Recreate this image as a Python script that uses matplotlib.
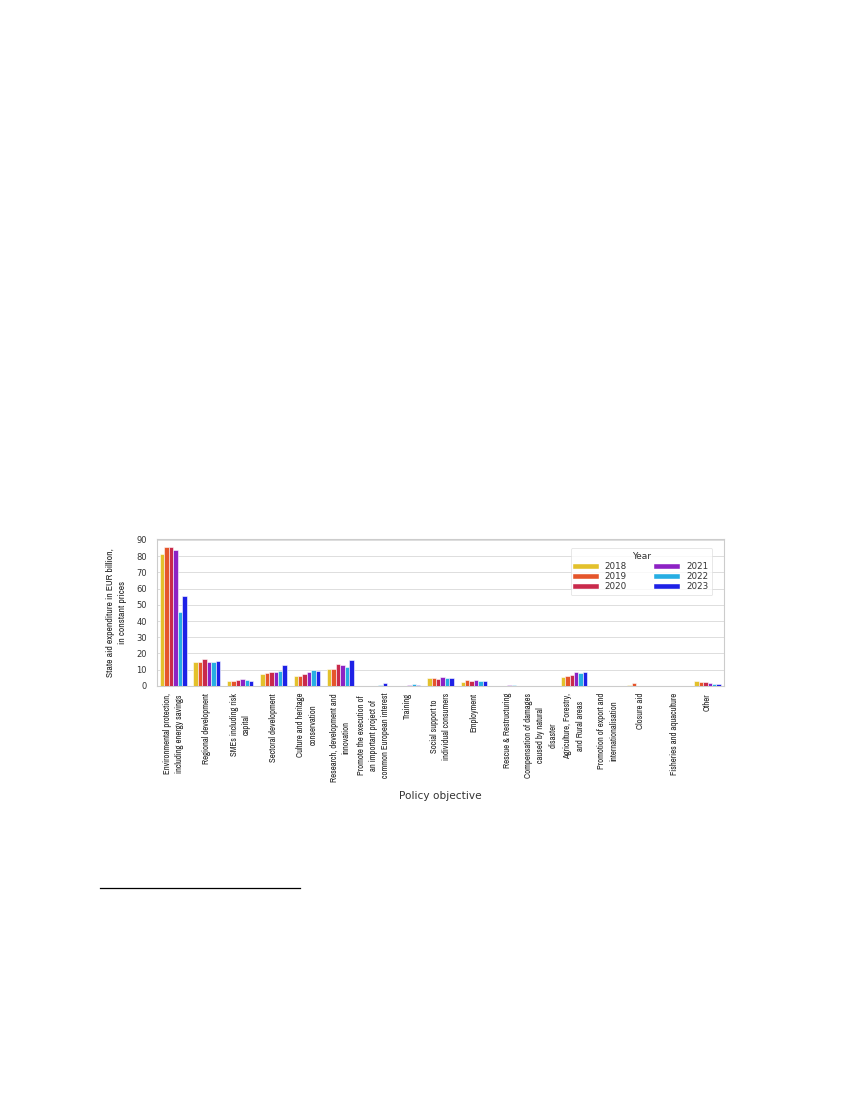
import numpy as np
import matplotlib
matplotlib.use('Agg')
import matplotlib.pyplot as plt
from matplotlib.lines import Line2D
from matplotlib import font_manager

plt.rcParams['font.family'] = ['Liberation Sans', 'DejaVu Sans']

categories = [
    'Environmental protection,\nincluding energy savings',
    'Regional development',
    'SMEs including risk\ncapital',
    'Sectoral development',
    'Culture and heritage\nconservation',
    'Research, development and\ninnovation',
    'Promote the execution of\nan important project of\ncommon European interest',
    'Training',
    'Social support to\nindividual consumers',
    'Employment',
    'Rescue & Restructuring',
    'Compensation of damages\ncaused by natural\ndisaster',
    'Agriculture, Forestry,\nand Rural areas',
    'Promotion of export and\ninternationalisation',
    'Closure aid',
    'Fisheries and aquaculture',
    'Other',
]
years = ['2018', '2019', '2020', '2021', '2022', '2023']
colors = ['#E3C12C', '#E5552B', '#C92A4B', '#8D22C4', '#27AEE3', '#1E21E6']

v2018 = [81.0, 14.5, 3.3, 7.6, 6.3, 10.6, 0.0, 0.0, 4.9, 2.6, 0.0, 0.0, 5.7, 0.0, 0.6, 0.0, 3.0]
v2019 = [85.3, 14.9, 3.3, 8.2, 6.3, 10.6, 0.0, 0.0, 4.9, 3.6, 0.0, 0.0, 6.2, 0.0, 1.9, 0.0, 2.6]
v2020 = [85.3, 16.3, 3.9, 8.8, 7.6, 13.3, 0.0, 0.0, 4.5, 3.2, 0.0, 0.1, 6.6, 0.0, 0.0, 0.0, 2.6]
v2021 = [83.5, 14.5, 4.1, 8.8, 8.4, 12.7, 0.1, 0.6, 5.5, 3.6, 0.6, 0.1, 8.3, 0.0, 0.0, 0.0, 1.7]
v2022 = [45.7, 14.5, 3.9, 9.4, 9.6, 11.6, 0.7, 1.1, 5.1, 3.2, 0.6, 0.0, 7.9, 0.0, 0.0, 0.0, 1.3]
v2023 = [55.3, 15.1, 2.9, 12.7, 9.0, 15.7, 1.9, 0.6, 5.1, 3.0, 0.0, 0.0, 8.7, 0.0, 0.0, 0.0, 1.1]
values = [v2018, v2019, v2020, v2021, v2022, v2023]

# look for a narrow sans font for the rotated labels
narrow_fp = None
best = 99
for f in font_manager.fontManager.ttflist:
    nm = f.name
    low = (nm + ' ' + f.fname).lower()
    if f.style != 'normal' or 'mono' in low or 'serif' in nm.lower() or 'bold' in low \
            or 'italic' in low or 'oblique' in low or 'light' in low:
        continue
    if 'narrow' in low:
        rank = 0
    elif 'condensed' in low or f.stretch in ('condensed', 'semi-condensed'):
        rank = 1 if 'sans' in low else 2
    else:
        continue
    if 'semicondensed' in low or 'semi' in str(f.stretch) or 'extra' in low:
        rank += 3
    if rank < best:
        best = rank
        narrow_fp = font_manager.FontProperties(fname=f.fname)

if narrow_fp is not None:
    xt_size, xt_ls = 6.2, 1.45
    yl_size = 6.9
else:
    narrow_fp = font_manager.FontProperties(family='Liberation Sans')
    xt_size, xt_ls = 5.2, 1.75
    yl_size = 5.8

fig = plt.figure(figsize=(8.5, 11), dpi=100)
ax = fig.add_axes([0.1843, 0.3764, 0.6678, 0.1336])

x = np.arange(len(categories))
w = 0.8 / len(years)
for i, (yr, vals) in enumerate(zip(years, values)):
    ax.bar(x - 0.4 + w * (i + 0.5), vals, width=w, color=colors[i],
           edgecolor='white', linewidth=0.4, zorder=3)

ax.set_xlim(-0.5, len(categories) - 0.5)
ax.set_ylim(0, 90.5)
ax.set_yticks(range(0, 91, 10))
ax.grid(axis='y', color='#dddddd', linewidth=0.7, zorder=0)
ax.set_axisbelow(True)
for s in ax.spines.values():
    s.set_color('#cccccc')
    s.set_linewidth(0.8)
ax.tick_params(axis='y', length=0, labelsize=6, pad=7, colors='#333333')
ax.tick_params(axis='x', length=0, pad=5)
for t in ax.get_yticklabels():
    t.set_family('DejaVu Sans')

ax.set_xticks(x)
ax.set_xticklabels(categories, rotation=90, ha='center', va='top',
                   multialignment='center', linespacing=xt_ls,
                   fontproperties=narrow_fp, color='#222222')
for t in ax.get_xticklabels():
    t.set_fontsize(xt_size)

ax.set_ylabel('State aid expenditure in EUR billion,\nin constant prices',
              fontproperties=narrow_fp, labelpad=7, linespacing=1.4, color='#222222')
ax.yaxis.label.set_fontsize(yl_size)
ax.set_xlabel('Policy objective', fontsize=7.6, labelpad=7, color='#333333',
              family='DejaVu Sans')

handles = [Line2D([0], [0], color=c, lw=3.3) for c in colors]
leg = ax.legend(handles, years, title='Year', ncol=2, loc='upper right',
                bbox_to_anchor=(0.979, 0.937), borderaxespad=0,
                prop={'family': 'DejaVu Sans', 'size': 6.3},
                title_fontproperties={'family': 'DejaVu Sans', 'size': 6.5},
                frameon=True, handlelength=2.45, columnspacing=3.3,
                labelspacing=0.12, borderpad=0.45, handletextpad=1.0)
for t in leg.get_texts():
    t.set_color('#333333')
leg.get_title().set_color('#333333')
leg.get_frame().set_edgecolor('#dddddd')
leg.get_frame().set_linewidth(0.6)

# footnote separator line
fig.add_artist(Line2D([100 / 850, 300 / 850], [1 - 888 / 1100, 1 - 888 / 1100],
                      color='black', linewidth=0.9))

fig.savefig('out.png', dpi=100)
